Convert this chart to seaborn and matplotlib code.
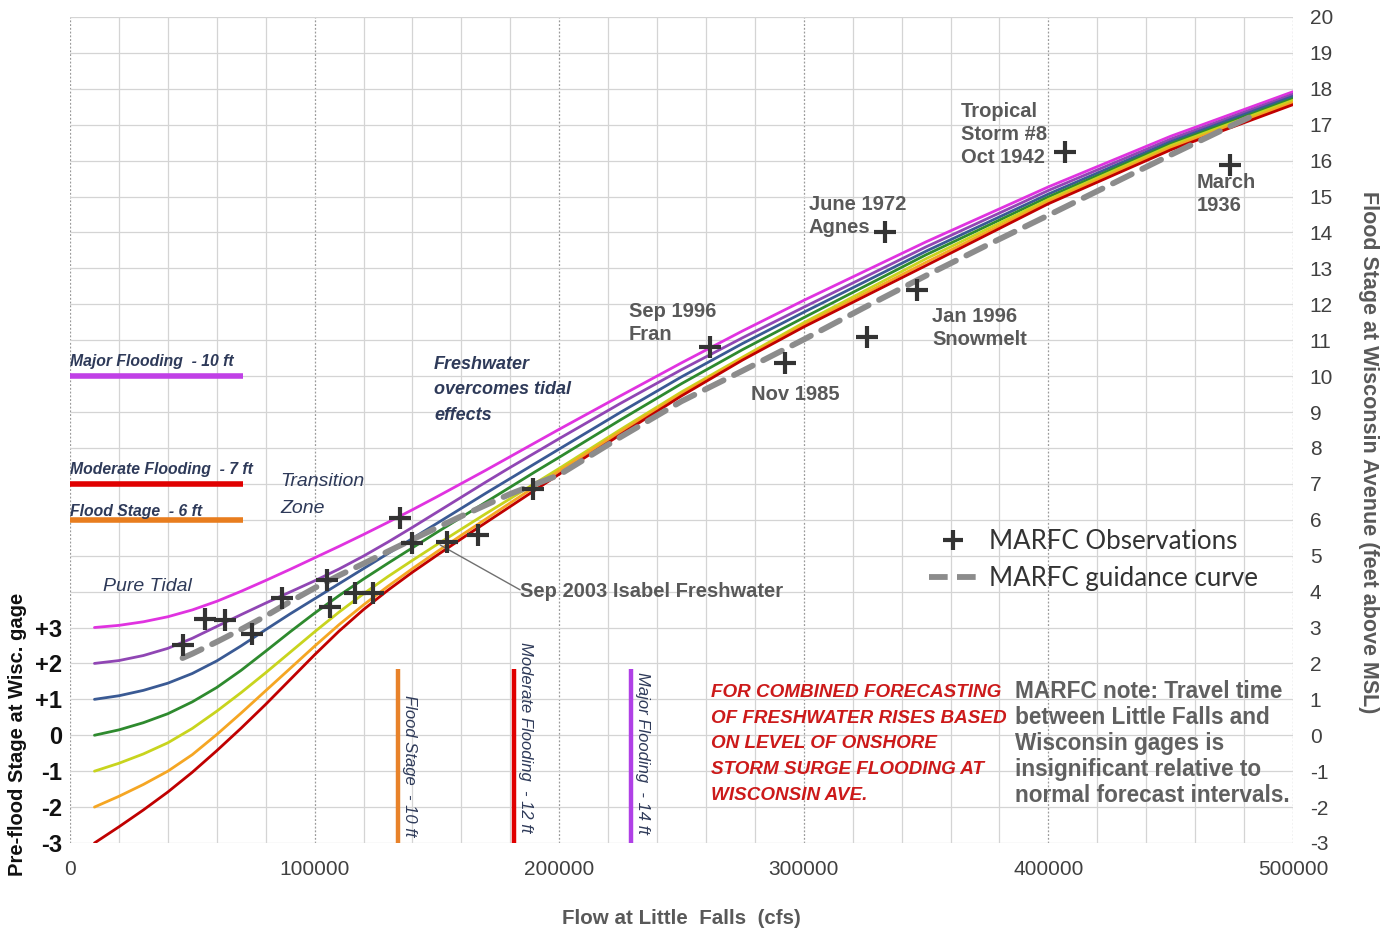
import numpy as np
import pandas as pd
import matplotlib
matplotlib.use("Agg")
import matplotlib.pyplot as plt
from matplotlib.lines import Line2D
import seaborn as sns

# ---- rating curves: Wisconsin Ave stage vs Little Falls flow, one per pre-flood stage ----
flow = [10000, 20000, 30000, 40000, 50000, 60000, 70000, 80000, 90000, 100000,
        110000, 120000, 130000, 140000, 150000, 160000, 170000, 180000, 190000, 200000,
        225000, 250000, 275000, 300000, 350000, 400000, 450000, 500000]

stage_p3 = [3.00, 3.06, 3.16, 3.30, 3.49, 3.73, 4.01, 4.31, 4.62, 4.94,
            5.26, 5.59, 5.93, 6.28, 6.64, 7.01, 7.38, 7.76, 8.14, 8.52,
            9.45, 10.37, 11.26, 12.11, 13.74, 15.27, 16.68, 17.92]
stage_p2 = [2.00, 2.08, 2.22, 2.42, 2.70, 3.03, 3.36, 3.68, 3.99, 4.30,
            4.63, 4.99, 5.38, 5.79, 6.21, 6.63, 7.05, 7.46, 7.86, 8.26,
            9.24, 10.18, 11.07, 11.92, 13.60, 15.17, 16.60, 17.85]
stage_p1 = [1.00, 1.10, 1.25, 1.45, 1.72, 2.07, 2.49, 2.94, 3.38, 3.80,
            4.22, 4.64, 5.06, 5.48, 5.90, 6.32, 6.74, 7.15, 7.56, 7.97,
            8.99, 9.98, 10.91, 11.78, 13.48, 15.07, 16.53, 17.79]
stage_0 = [0.00, 0.15, 0.35, 0.60, 0.93, 1.33, 1.81, 2.34, 2.88, 3.40,
           3.89, 4.35, 4.79, 5.22, 5.65, 6.07, 6.49, 6.91, 7.33, 7.74,
           8.78, 9.79, 10.74, 11.63, 13.38, 14.99, 16.47, 17.73]
stage_m1 = [-1.00, -0.78, -0.52, -0.21, 0.19, 0.67, 1.19, 1.74, 2.31, 2.88,
            3.43, 3.94, 4.42, 4.87, 5.31, 5.74, 6.17, 6.59, 7.01, 7.43,
            8.51, 9.56, 10.53, 11.49, 13.27, 14.92, 16.42, 17.68]
stage_m2 = [-2.00, -1.70, -1.37, -1.00, -0.54, 0.02, 0.62, 1.24, 1.86, 2.48,
            3.08, 3.63, 4.15, 4.64, 5.11, 5.57, 6.02, 6.47, 6.92, 7.36,
            8.45, 9.51, 10.49, 11.43, 13.17, 14.86, 16.36, 17.62]
stage_m3 = [-3.00, -2.55, -2.08, -1.58, -1.03, -0.43, 0.20, 0.86, 1.55, 2.24,
            2.90, 3.50, 4.04, 4.54, 5.01, 5.47, 5.92, 6.37, 6.82, 7.27,
            8.37, 9.45, 10.45, 11.37, 13.08, 14.80, 16.30, 17.56]

curve_names = ["+3", "+2", "+1", "0", "-1", "-2", "-3"]
curve_colors = ["#e033e0", "#9046b4", "#3a5a94", "#2e8a2e", "#c8d41e", "#f5a623", "#c00000"]

# ---- MARFC guidance curve ----
guide_flow = [46000, 50000, 60000, 70000, 80000, 90000, 100000, 110000, 120000, 130000,
              140000, 150000, 160000, 180000, 200000, 225000, 250000, 275000, 300000,
              325000, 350000, 375000, 400000, 425000, 450000, 475000, 482000]
guide_stage = [2.15, 2.27, 2.60, 2.95, 3.32, 3.72, 4.10, 4.45, 4.78, 5.12,
               5.45, 5.78, 6.10, 6.72, 7.25, 8.30, 9.30, 10.15, 11.02,
               11.92, 12.80, 13.65, 14.48, 15.32, 16.16, 16.98, 17.20]

# ---- MARFC observations ----
obs_flow = [46300, 55200, 63400, 74600, 86500, 104900, 106300, 116500, 124000,
            134900, 139700, 154000, 166900, 189300, 261600, 292300, 325700,
            346100, 333200, 406700, 474200]
obs_stage = [2.51, 3.23, 3.21, 2.82, 3.81, 4.32, 3.58, 3.95, 3.95,
             6.04, 5.35, 5.39, 5.58, 6.86, 10.82, 10.36, 11.1,
             12.4, 14.02, 16.25, 15.88]

# ---- flood category thresholds ----
stage_levels = [10, 7, 6]
stage_level_labels = ["Major Flooding  - 10 ft", "Moderate Flooding  - 7 ft", "Flood Stage  - 6 ft"]
stage_level_colors = ["#c040e6", "#e00000", "#e87d1e"]
stage_label_offsets = [0.42, 0.39, 0.22]

flow_levels = [134100, 181500, 229300]
flow_level_labels = ["Flood Stage  - 10 ft", "Moderate Flooding  - 12 ft", "Major Flooding  - 14 ft"]
flow_level_colors = ["#e8822a", "#e00000", "#b040e6"]
flow_label_tops = [1.12, 2.6, 1.76]

left_ticks = [3, 2, 1, 0, -1, -2, -3]
left_tick_labels = ["+3", "+2", "+1", "0", "-1", "-2", "-3"]

sns.set_theme(style="white")
plt.rcParams["font.family"] = ["Liberation Sans", "DejaVu Sans"]
plt.rcParams["axes.unicode_minus"] = False

W, H = 1383, 936
fig = plt.figure(figsize=(W / 100, H / 100), dpi=100)
ax = fig.add_axes([70 / W, 1 - 843 / H, (1293 - 70) / W, (843 - 17) / H])

# grid: light minor lines every 20000 cfs and 1 ft, dotted major lines every 100000 cfs
for xv in np.arange(0, 500001, 20000):
    if xv % 100000 == 0:
        ax.axvline(xv, color="#9a9a9a", lw=0.9, ls=(0, (1.5, 1.5)), zorder=0)
    else:
        ax.axvline(xv, color="#d4d4d4", lw=0.9, zorder=0)
for yv in range(-3, 21):
    ax.axhline(yv, color="#d4d4d4", lw=0.9, zorder=0)

# rating curves
df = pd.DataFrame({"flow": flow * 7,
                   "stage": stage_p3 + stage_p2 + stage_p1 + stage_0 + stage_m1 + stage_m2 + stage_m3,
                   "curve": np.repeat(curve_names, len(flow))})
sns.lineplot(data=df, x="flow", y="stage", hue="curve", hue_order=curve_names,
             palette=curve_colors, lw=2.0, sort=False, legend=False, ax=ax, zorder=3)

# guidance curve
gdf = pd.DataFrame({"flow": guide_flow, "stage": guide_stage})
sns.lineplot(data=gdf, x="flow", y="stage", color="#8c8c8c", lw=4.2, sort=False,
             ax=ax, zorder=4, legend=False)
ax.lines[-1].set_dashes([3.6, 2.0])
ax.lines[-1].set_dash_capstyle("round")

# observations
odf = pd.DataFrame({"flow": obs_flow, "stage": obs_stage})
sns.scatterplot(data=odf, x="flow", y="stage", marker="+", s=260, color="#333333",
                linewidth=3.0, ax=ax, zorder=6, legend=False)

# stage thresholds (horizontal) and flow thresholds (vertical)
label_kw = dict(color="#2e3a59", style="italic")
for yv, lab, col, off in zip(stage_levels, stage_level_labels, stage_level_colors, stage_label_offsets):
    ax.plot([0, 70700], [yv, yv], color=col, lw=4, solid_capstyle="butt", zorder=3)
    ax.text(0, yv + off, lab, fontsize=11.3, weight="bold", ha="left", va="center", **label_kw)

for xv, lab, col, top in zip(flow_levels, flow_level_labels, flow_level_colors, flow_label_tops):
    ax.plot([xv, xv], [-3, 1.85], color=col, lw=3.2, solid_capstyle="butt", zorder=3)
    ax.text(xv + 1600, top, lab, rotation=270, fontsize=12, ha="left", va="top", **label_kw)

# region notes
ax.text(13490, 4.13, "Pure Tidal", fontsize=14, ha="left", va="center", **label_kw)
ax.text(85850, 6.68, "Transition\nZone", fontsize=14, ha="left", va="center",
        linespacing=1.78, **label_kw)
ax.text(148800, 9.62, "Freshwater\novercomes tidal\neffects", fontsize=13, weight="bold",
        ha="left", va="center", linespacing=1.65, **label_kw)

# event labels
ev_kw = dict(color="#595959", fontsize=14.5, weight="bold", ha="left", va="center", linespacing=1.27)
ax.text(228500, 11.48, "Sep 1996\nFran", **ev_kw)
ax.text(278400, 9.50, "Nov 1985", **ev_kw)
ax.text(302100, 14.46, "June 1972\nAgnes", **ev_kw)
ax.text(364200, 16.72, "Tropical\nStorm #8\nOct 1942", **ev_kw)
ax.text(460700, 15.08, "March\n1936", **ev_kw)
ax.text(352400, 11.33, "Jan 1996\nSnowmelt", **ev_kw)
ax.plot([151300, 184000], [5.30, 4.05], color="#707070", lw=1.0, zorder=5)
ax.text(184000, 3.99, "Sep 2003 Isabel Freshwater", **ev_kw)

ax.text(262000, -0.24, "FOR COMBINED FORECASTING\nOF FRESHWATER RISES BASED\nON LEVEL OF ONSHORE\n"
        "STORM SURGE FLOODING AT\nWISCONSIN AVE.", color="#cc1a1a", fontsize=13.6,
        weight="bold", style="italic", ha="left", va="center", linespacing=1.68)
ax.text(386300, -0.24, "MARFC note: Travel time\nbetween Little Falls and\nWisconsin gages is\n"
        "insignificant relative to\nnormal forecast intervals.", color="#606060", fontsize=16.3,
        weight="bold", ha="left", va="center", linespacing=1.17)

# legend
handles = [Line2D([], [], color="#333333", marker="+", ls="none", markersize=15, mew=3),
           Line2D([], [], color="#8c8c8c", lw=4.2, dashes=[3.2, 1.6])]
leg = ax.legend(handles, ["MARFC Observations", "MARFC guidance curve"], loc="upper left",
                bbox_to_anchor=(0.683, 0.408), frameon=False, handlelength=1.9,
                handletextpad=0.45, labelspacing=0.45, prop={"family": "Lato", "size": 18.6})
for t in leg.get_texts():
    t.set_color("#333333")

# axes
ax.set_xlim(0, 500000)
ax.set_ylim(-3, 20)
ax.set_xticks(np.arange(0, 500001, 100000))
ax.set_xticklabels([str(v) for v in range(0, 500001, 100000)])
ax.yaxis.tick_right()
ax.set_yticks(range(-3, 21))
ax.tick_params(axis="x", length=0, pad=12, labelsize=15, labelcolor="#404040")
ax.tick_params(axis="y", length=0, pad=12, labelsize=15, labelcolor="#404040")
for s in ax.spines.values():
    s.set_visible(False)
ax.set_xlabel("Flow at Little  Falls  (cfs)", fontsize=14.8, weight="bold", color="#595959",
              labelpad=22)
ax.set_ylabel("")

sec = ax.secondary_yaxis("left")
sec.set_yticks(left_ticks)
sec.set_yticklabels(left_tick_labels)
sec.tick_params(length=0, pad=5.5, labelsize=17)
for t in sec.get_yticklabels():
    t.set_weight("bold")
    t.set_color("#111111")
sec.spines["left"].set_visible(False)

fig.text(18 / W, 1 - 734 / H, "Pre-flood Stage at Wisc. gage", rotation=90, fontsize=14.5,
         weight="bold", color="#111111", ha="center", va="center")
fig.text(1368 / W, 1 - 452 / H, "Flood Stage at Wisconsin Avenue (feet above MSL)",
         rotation=270, fontsize=15.5, weight="bold", color="#595959", ha="center", va="center")

fig.savefig("out.png", dpi=100, facecolor="white")
